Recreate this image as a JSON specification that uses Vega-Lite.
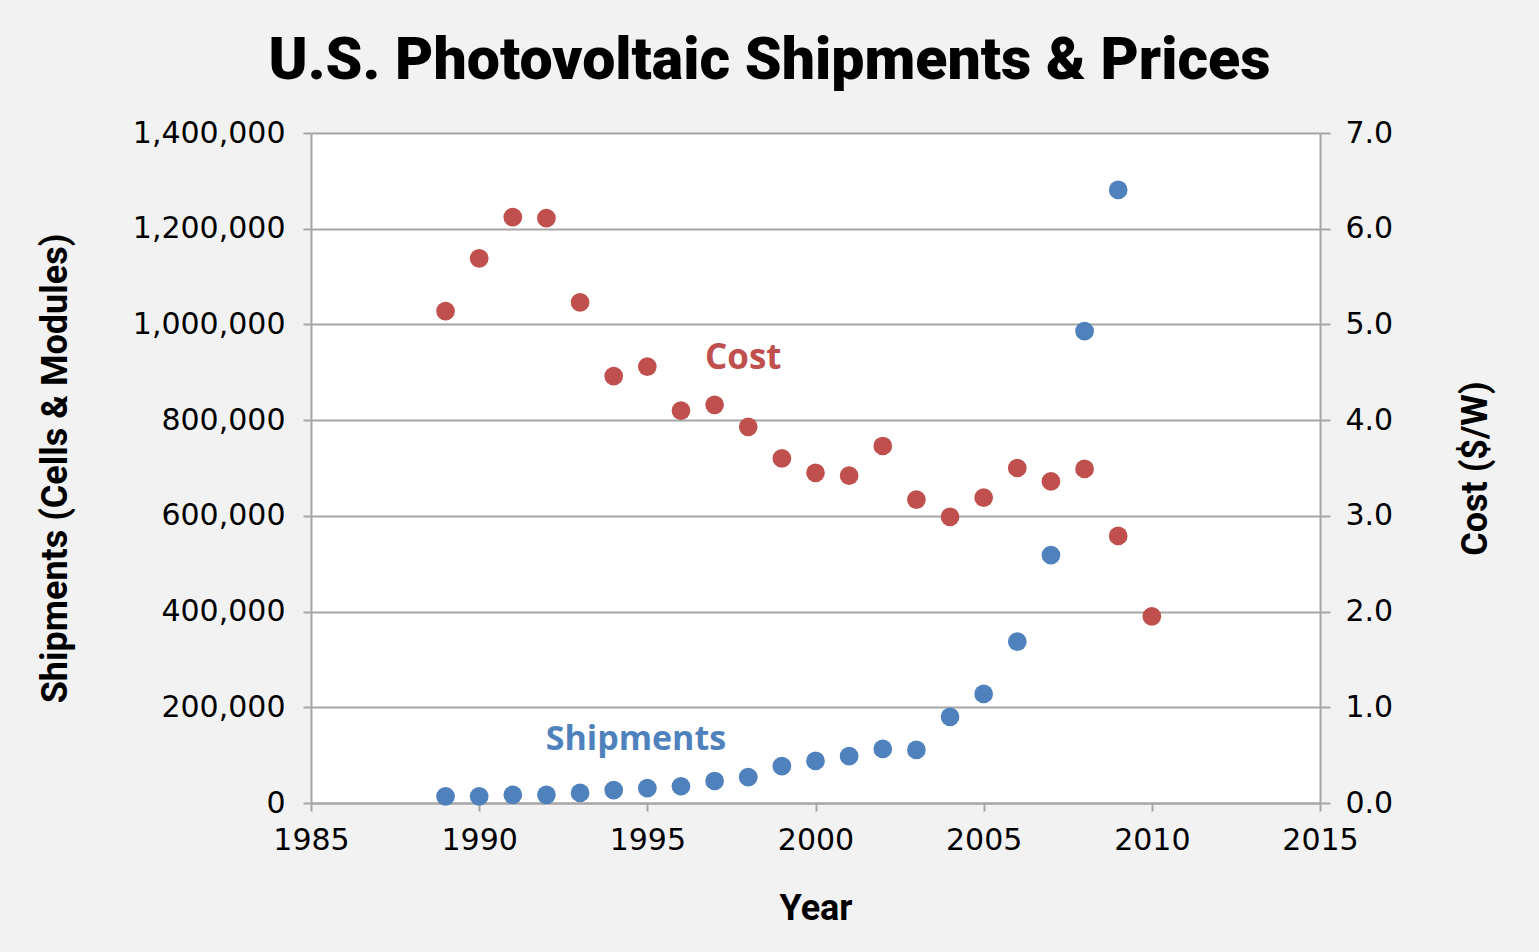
{
  "$schema": "https://vega.github.io/schema/vega-lite/v6.json",
  "width": 1009,
  "height": 670,
  "autosize": "none",
  "padding": {"left": 311, "top": 133, "right": 219, "bottom": 149},
  "background": "#f2f2f2",
  "title": {
    "text": "U.S. Photovoltaic Shipments & Prices",
    "font": "Roboto",
    "fontWeight": 900,
    "fontSize": 59,
    "color": "#000000",
    "anchor": "middle",
    "dx": -46,
    "baseline": "alphabetic",
    "offset": -20
  },
  "datasets": {
    "pv": [
      {"year": 1989, "shipments": 14000, "cost": 5.14},
      {"year": 1990, "shipments": 13800, "cost": 5.69},
      {"year": 1991, "shipments": 17000, "cost": 6.12},
      {"year": 1992, "shipments": 17000, "cost": 6.11},
      {"year": 1993, "shipments": 21000, "cost": 5.23},
      {"year": 1994, "shipments": 27000, "cost": 4.46},
      {"year": 1995, "shipments": 31000, "cost": 4.56},
      {"year": 1996, "shipments": 35000, "cost": 4.10},
      {"year": 1997, "shipments": 46000, "cost": 4.16},
      {"year": 1998, "shipments": 54000, "cost": 3.93},
      {"year": 1999, "shipments": 77000, "cost": 3.60},
      {"year": 2000, "shipments": 88000, "cost": 3.45},
      {"year": 2001, "shipments": 98000, "cost": 3.42},
      {"year": 2002, "shipments": 113000, "cost": 3.73},
      {"year": 2003, "shipments": 111000, "cost": 3.17},
      {"year": 2004, "shipments": 180000, "cost": 2.99},
      {"year": 2005, "shipments": 228000, "cost": 3.19},
      {"year": 2006, "shipments": 337000, "cost": 3.50},
      {"year": 2007, "shipments": 518000, "cost": 3.36},
      {"year": 2008, "shipments": 986000, "cost": 3.49},
      {"year": 2009, "shipments": 1281000, "cost": 2.79},
      {"year": 2010, "shipments": null, "cost": 1.95}
    ],
    "shipLabel": [{"year": 1994.66, "shipments": 131600, "label": "Shipments"}],
    "costLabel": [{"year": 1997.85, "cost": 4.65, "label": "Cost"}]
  },
  "layer": [
    {
      "layer": [
        {
          "data": {"name": "pv"},
          "mark": {"type": "circle", "size": 350, "opacity": 1, "color": "#4f81bd"},
          "encoding": {
            "x": {"field": "year", "type": "quantitative"},
            "y": {"field": "shipments", "type": "quantitative"}
          }
        },
        {
          "data": {"name": "shipLabel"},
          "mark": {"type": "text", "font": "Open Sans", "fontWeight": "bold", "fontSize": 34, "color": "#4f81bd", "align": "center", "baseline": "middle"},
          "encoding": {
            "x": {"field": "year", "type": "quantitative"},
            "y": {"field": "shipments", "type": "quantitative"},
            "text": {"field": "label"}
          }
        }
      ],
      "encoding": {
        "x": {
          "field": "year",
          "type": "quantitative",
          "scale": {"domain": [1985, 2015], "nice": false, "zero": false},
          "axis": {
            "title": "Year",
            "values": [1985, 1990, 1995, 2000, 2005, 2010, 2015],
            "format": "d",
            "grid": false,
            "tickSize": 8,
            "labelPadding": 14,
            "labelFlush": false,
            "titlePadding": 36
          }
        },
        "y": {
          "field": "shipments",
          "type": "quantitative",
          "scale": {"domain": [0, 1400000], "nice": false},
          "axis": {
            "title": "Shipments (Cells & Modules)",
            "orient": "left",
            "values": [0, 200000, 400000, 600000, 800000, 1000000, 1200000, 1400000],
            "format": ",d",
            "grid": true,
            "tickSize": 8,
            "labelPadding": 18,
            "titlePadding": 58
          }
        }
      }
    },
    {
      "layer": [
        {
          "data": {"name": "pv"},
          "mark": {"type": "circle", "size": 350, "opacity": 1, "color": "#c0504d"},
          "encoding": {
            "x": {"field": "year", "type": "quantitative"},
            "y": {"field": "cost", "type": "quantitative"}
          }
        },
        {
          "data": {"name": "costLabel"},
          "mark": {"type": "text", "font": "Open Sans", "fontWeight": "bold", "fontSize": 35, "color": "#c0504d", "align": "center", "baseline": "middle"},
          "encoding": {
            "x": {"field": "year", "type": "quantitative"},
            "y": {"field": "cost", "type": "quantitative"},
            "text": {"field": "label"}
          }
        }
      ],
      "encoding": {
        "y": {
          "field": "cost",
          "type": "quantitative",
          "scale": {"domain": [0, 7], "nice": false},
          "axis": {
            "title": "Cost ($/W)",
            "orient": "right",
            "values": [0, 1, 2, 3, 4, 5, 6, 7],
            "format": ".1f",
            "grid": false,
            "tickSize": 10,
            "labelPadding": 15,
            "titleAngle": 270,
            "titlePadding": 102
          }
        }
      }
    }
  ],
  "resolve": {"scale": {"y": "independent"}},
  "config": {
    "view": {"fill": "#ffffff", "stroke": null},
    "axis": {
      "domainColor": "#a6a6a6",
      "domainWidth": 2,
      "tickColor": "#a6a6a6",
      "tickWidth": 2,
      "gridColor": "#a6a6a6",
      "gridWidth": 2,
      "labelFont": "DejaVu Sans",
      "labelFontSize": 30,
      "labelColor": "#000000",
      "titleFont": "Roboto",
      "titleFontWeight": "bold",
      "titleFontSize": 36,
      "titleColor": "#000000"
    }
  }
}
